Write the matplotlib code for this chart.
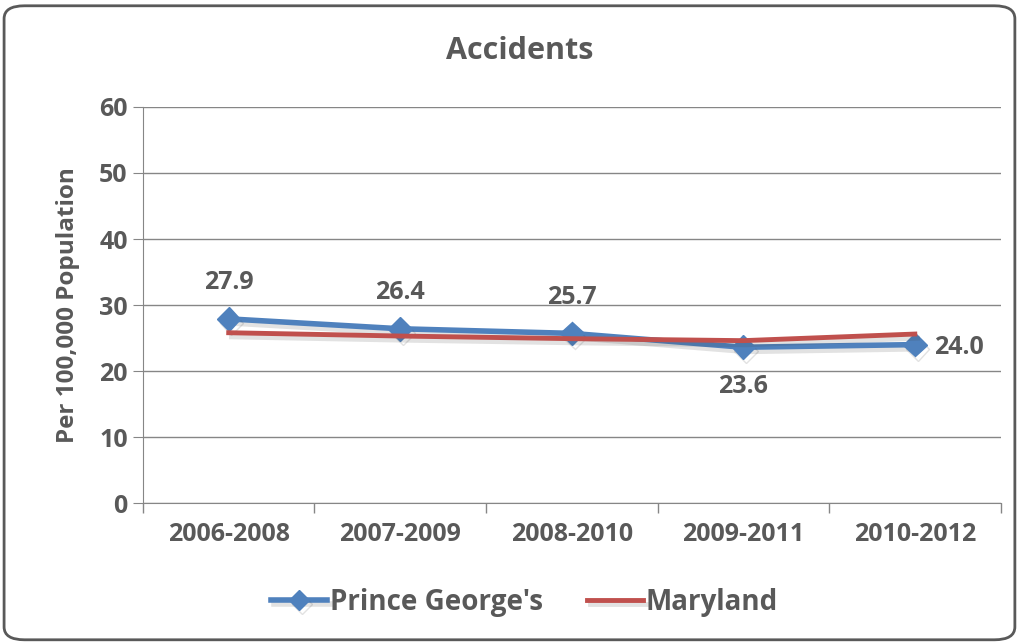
import matplotlib
matplotlib.use("Agg")
import matplotlib.pyplot as plt
import matplotlib.patheffects as pe
from matplotlib.patches import FancyBboxPatch

# Datos
periodos = ["2006-2008", "2007-2009", "2008-2010", "2009-2011", "2010-2012"]
prince_georges = [27.9, 26.4, 25.7, 23.6, 24.0]
maryland = [25.8, 25.3, 24.9, 24.6, 25.6]
etiquetas_y = [0, 10, 20, 30, 40, 50, 60]

gris_texto = "#595959"
azul = "#4F81BD"
rojo = "#C0504D"
plt.rcParams["font.family"] = ["Open Sans", "DejaVu Sans"]
plt.rcParams["font.weight"] = "bold"

fig = plt.figure(figsize=(10.21, 6.43), dpi=100)
ax = fig.add_axes([0.140, 0.2177, 0.840, 0.6159])

# Borde redondeado de la figura
marco = FancyBboxPatch((0.004, 0.005), 0.990, 0.986, boxstyle="round,pad=0,rounding_size=0.02",
                       transform=fig.transFigure, facecolor="white", edgecolor="#595959",
                       linewidth=2, zorder=-10)
fig.patches.append(marco)

x = list(range(len(periodos)))
sombra = [pe.SimpleLineShadow(offset=(2, -3), alpha=0.15, shadow_color="#404040"), pe.Normal()]
ax.plot(x, prince_georges, color=azul, lw=4, marker="D", markersize=12, label="Prince George's",
        zorder=3, path_effects=sombra)
ax.plot(x, maryland, color=rojo, lw=3.5, label="Maryland", zorder=4, path_effects=sombra)

# Etiquetas de valores
offsets = [(0, 26), (0, 26), (0, 26), (0, -28), (32, -2)]
for xi, v, off in zip(x, prince_georges, offsets):
    ax.annotate(f"{v:.1f}", (xi, v), xytext=off, textcoords="offset points",
                ha="center", va="center", fontsize=18, fontweight="bold", color=gris_texto)

ax.set_xlim(-0.5, len(periodos) - 0.5)
ax.set_ylim(0, 60)
ax.set_yticks(etiquetas_y)
ax.set_xticks(x)
ax.set_xticklabels(periodos)
ax.set_xticks([i - 0.5 for i in range(len(periodos) + 1)], minor=True)
ax.tick_params(axis="x", which="major", length=0, pad=14, labelsize=18, labelcolor=gris_texto)
ax.tick_params(axis="x", which="minor", length=7, color="#868686", width=1)
ax.tick_params(axis="y", length=7, color="#868686", pad=4, labelsize=18, labelcolor=gris_texto)
ax.grid(axis="y", color="#868686", lw=1)
ax.set_axisbelow(True)
for s in ["top", "right"]:
    ax.spines[s].set_visible(False)
for s in ["left", "bottom"]:
    ax.spines[s].set_color("#868686")

ax.set_ylabel("Per 100,000 Population", fontsize=17.5, fontweight="bold", color=gris_texto, labelpad=14)
fig.text(0.509, 0.921, "Accidents", ha="center", va="center", fontsize=22, fontweight="bold", color=gris_texto)

leg = ax.legend(loc="center", bbox_to_anchor=(0.445, -0.25), ncol=2, frameon=False, fontsize=20,
                handlelength=2.0, columnspacing=1.6, handletextpad=0.1, markerscale=0.85)
for t in leg.get_texts():
    t.set_color(gris_texto)

plt.savefig("out.png", dpi=100)
